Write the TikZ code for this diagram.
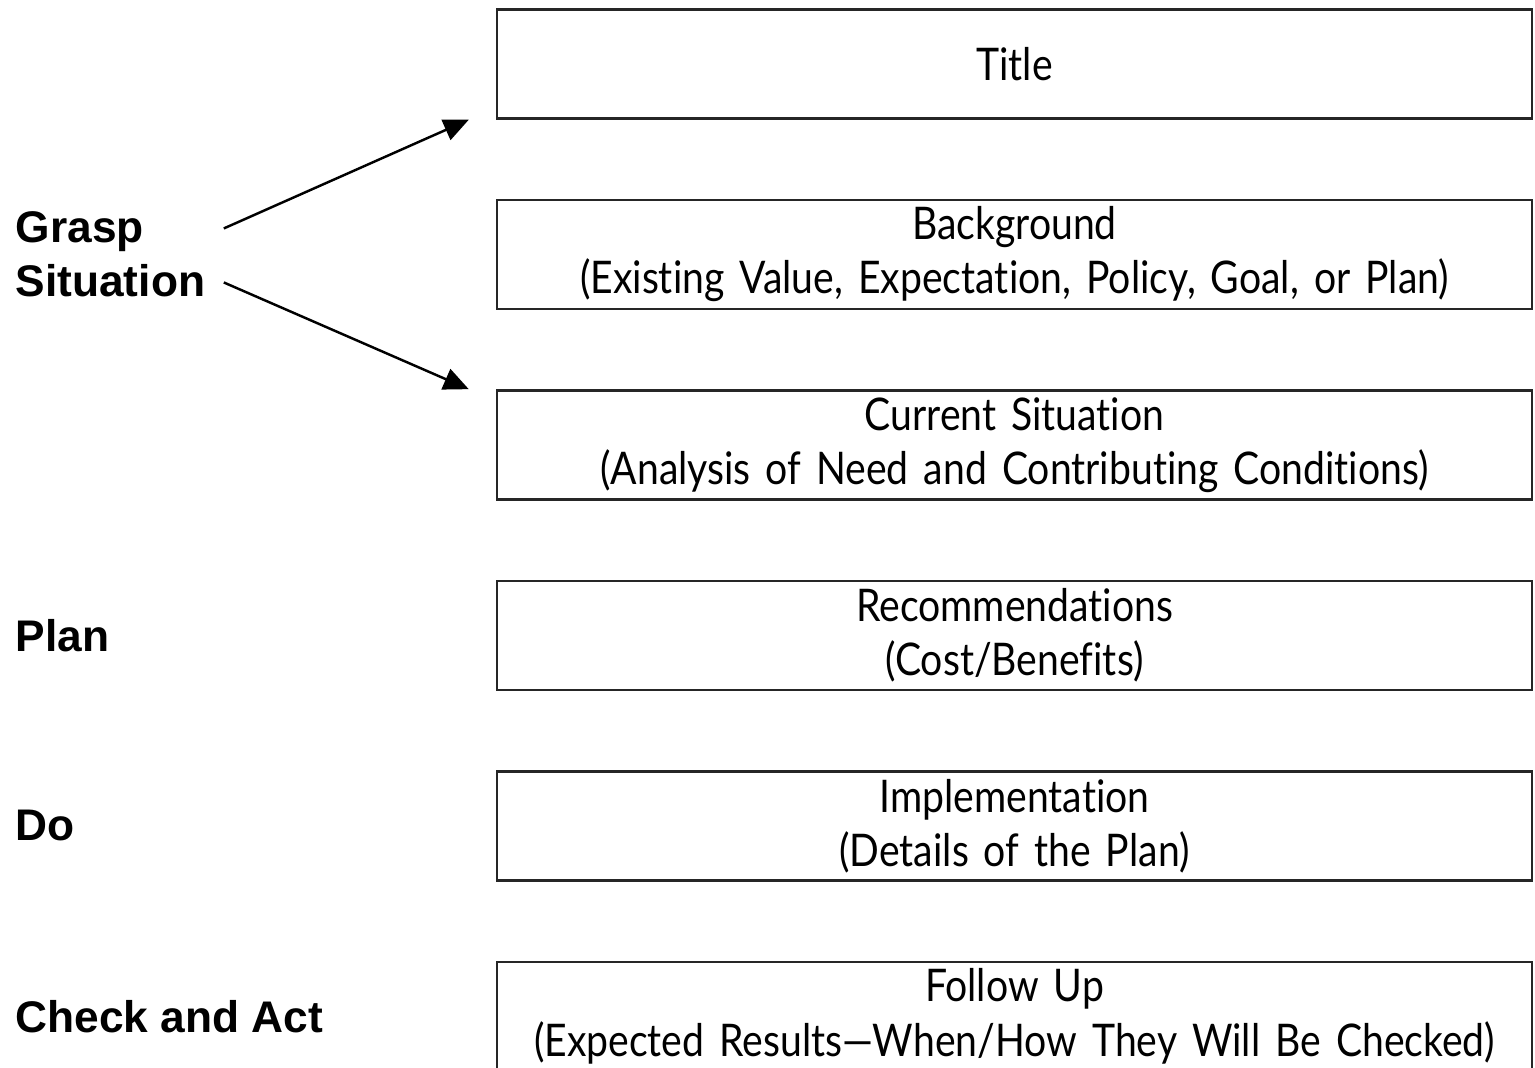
\documentclass[tikz,border=0pt]{standalone}
\usepackage{fontspec}
\newfontfamily\boxfont[FakeStretch=0.87,Ligatures=NoCommon,WordSpace=0.6]{Lato}
\newfontfamily\phasefont{Liberation Sans}
\usepackage{tikz}
\usetikzlibrary{arrows.meta,positioning}
\tikzset{
  stepbox/.style={
    draw=black!85,
    line width=0.7pt,
    rectangle,
    text width=10.2cm,
    inner xsep=0.075cm,
    inner ysep=0pt,
    minimum height=1.09cm,
    align=center,
    font=\boxfont\fontsize{12.8}{15.4}\selectfont
  },
  phase/.style={
    anchor=west,
    inner sep=0pt,
    align=left,
    font=\phasefont\bfseries\fontsize{12.6}{15.4}\selectfont
  },
  assoc/.style={-{Triangle[length=2.5mm,width=2.2mm]},line width=0.7pt}
}

\begin{document}
\begin{tikzpicture}[node distance=0.79cm]
  \useasboundingbox (0,0) rectangle (15.35,10.68);
  \node[stepbox] (title) at (10.145,10.04) {Title};
  \node[stepbox,below=of title] (bg) {Background\\(Existing Value, Expectation, Policy, Goal, or Plan)};
  \node[stepbox,below=of bg] (cur) {Current Situation\\(Analysis of Need and Contributing Conditions)};
  \node[stepbox,below=of cur] (rec) {Recommendations\\(Cost/Benefits)};
  \node[stepbox,below=of rec] (impl) {Implementation\\(Details of the Plan)};
  \node[stepbox,below=of impl] (follow) {Follow Up\\(Expected Results—When/How They Will Be Checked)};
  % phases of the cycle
  \node[phase] (grasp) at (0.15,0 |- bg) {Grasp\\Situation};
  \node[phase] (plan) at (0.15,0 |- rec) {Plan};
  \node[phase] (do) at (0.15,0 |- impl) {Do};
  \node[phase] (check) at (0.15,0 |- follow) {Check and Act};
  \coordinate (tip1) at ([xshift=-0.27cm]title.south west);
  \coordinate (tip2) at ([xshift=-0.27cm]cur.north west);
  \draw[assoc] ([shift={(0.18,0.26)}]grasp.east) -- (tip1);
  \draw[assoc] ([shift={(0.18,-0.28)}]grasp.east) -- (tip2);
\end{tikzpicture}
\end{document}
